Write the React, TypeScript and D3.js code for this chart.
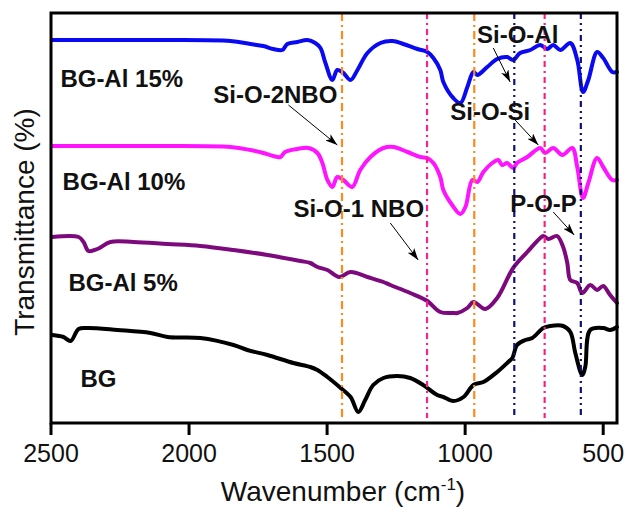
import React from 'react';
import * as d3 from 'd3';

const W = 629;
const H = 507;
const margin = { left: 51, top: 13, right: 12, bottom: 84 };

// wavenumber (cm-1), transmittance (a.u., stacked)
const bg15: [number, number][] = [
  [2495, 383], [2100, 383], [1850, 382], [1778, 379], [1731, 377], [1695, 374], [1662, 373],
  [1644, 379], [1608, 381], [1571, 383], [1543, 380], [1524, 375], [1506, 360], [1481, 343],
  [1463, 353], [1441, 350], [1415, 343], [1390, 353], [1354, 370], [1307, 380], [1263, 382],
  [1224, 379], [1173, 374], [1137, 371], [1115, 365], [1090, 353], [1079, 341], [1043, 325],
  [1017, 320], [992, 336], [970, 351], [956, 348], [920, 356], [884, 364], [848, 366],
  [826, 363], [801, 370], [764, 373], [728, 378], [703, 374], [681, 378], [655, 373],
  [619, 380], [594, 363], [573, 331], [554, 343], [522, 371], [500, 365], [467, 351], [450, 351],
];

const bg10: [number, number][] = [
  [2495, 277], [2100, 277], [1850, 276], [1778, 273], [1731, 270], [1695, 267], [1669, 266],
  [1652, 271], [1608, 274], [1568, 275], [1535, 270], [1517, 260], [1499, 243], [1481, 236],
  [1463, 246], [1441, 243], [1409, 236], [1380, 253], [1343, 266], [1296, 275], [1260, 276],
  [1209, 271], [1162, 266], [1137, 265], [1115, 260], [1090, 246], [1079, 233], [1047, 218],
  [1017, 209], [999, 216], [974, 243], [956, 241], [934, 251], [902, 260], [880, 263],
  [866, 258], [848, 260], [826, 255], [812, 260], [775, 266], [728, 275], [710, 270],
  [681, 275], [648, 268], [612, 275], [594, 256], [573, 225], [554, 240], [522, 265],
  [500, 256], [467, 243], [450, 243],
];

const bg5: [number, number][] = [
  [2495, 186], [2400, 186], [2382, 181], [2364, 172], [2332, 174], [2285, 181], [2201, 181],
  [2078, 179], [1959, 177], [1839, 173], [1716, 168], [1597, 162], [1561, 160], [1535, 156],
  [1499, 153], [1456, 146], [1415, 151], [1354, 146], [1296, 141], [1271, 138], [1199, 130],
  [1137, 122], [1090, 111], [1043, 110], [1028, 110], [992, 115], [970, 121], [927, 114],
  [884, 125], [826, 155], [775, 171], [728, 185], [717, 187], [699, 184], [667, 187],
  [645, 176], [630, 160], [619, 143], [594, 140], [576, 130], [547, 138], [522, 133],
  [500, 137], [475, 128], [450, 120],
];

const bg: [number, number][] = [
  [2495, 88], [2455, 86], [2429, 82], [2400, 94], [2368, 95], [2259, 93], [2140, 90],
  [2078, 86], [1959, 85], [1839, 78], [1789, 73], [1716, 68], [1622, 60], [1561, 56],
  [1535, 53], [1499, 46], [1455, 36], [1415, 26], [1387, 11], [1362, 23], [1333, 38],
  [1296, 45], [1246, 47], [1199, 45], [1152, 38], [1101, 28], [1079, 26], [1043, 22],
  [1006, 26], [970, 38], [934, 41], [884, 51], [844, 61], [829, 65], [812, 78], [782, 83],
  [757, 85], [717, 95], [692, 97], [645, 97], [619, 91], [601, 70], [576, 48], [565, 56],
  [547, 93], [500, 95], [475, 93], [450, 96],
];

const series = [
  { name: 'BG-Al 15%', color: '#0a0af2', data: bg15, label: [2466, 336] },
  { name: 'BG-Al 10%', color: '#ff14ff', data: bg10, label: [2458, 233] },
  { name: 'BG-Al 5%', color: '#7d0a7d', data: bg5, label: [2437, 132] },
  { name: 'BG', color: '#000000', data: bg, label: [2393, 36] },
];

const xTicks = [2500, 2000, 1500, 1000, 500];

const bandLines = [
  { wn: 1446, color: '#ff8a1c', dash: '8,4,2,4' },
  { wn: 1138, color: '#ff1f8c', dash: '6,4,2,4' },
  { wn: 967, color: '#ff8a1c', dash: '8,4,2,4' },
  { wn: 822, color: '#10107a', dash: '6,4,2,4,2,4' },
  { wn: 712, color: '#ff1f8c', dash: '6,4,2,4' },
  { wn: 581, color: '#10107a', dash: '6,4,2,4,2,4' },
];

// text anchor, arrow from, arrow to (data units)
const notes = [
  { text: 'Si-O-2NBO', at: [1912, 320], from: [1640, 318], to: [1463, 278] },
  { text: 'Si-O-1 NBO', at: [1622, 206], from: [1271, 200], to: [1170, 163] },
  { text: 'Si-O-Al', at: [957, 380], from: [898, 375], to: [837, 341] },
  { text: 'Si-O-Si', at: [1054, 303], from: [819, 303], to: [735, 278] },
  { text: 'P-O-P', at: [837, 211], from: [681, 211], to: [605, 188] },
];

const font = '"Liberation Sans", Arial, sans-serif';

export default function App() {
  const x = d3.scaleLinear().domain([2500, 450]).range([margin.left, W - margin.right]);
  const y = d3.scaleLinear().domain([0, 410]).range([H - margin.bottom, margin.top]);
  const line = d3
    .line<[number, number]>()
    .x((d) => x(d[0]))
    .y((d) => y(d[1]))
    .curve(d3.curveCatmullRom.alpha(0.5));

  const bottom = H - margin.bottom;

  return (
    <svg width={W} height={H} style={{ position: 'absolute', left: 0, top: 0, background: '#fff' }}>
      <defs>
        <marker id="arr" viewBox="0 0 12 8" refX="12" refY="4" markerWidth="12" markerHeight="8"
          markerUnits="userSpaceOnUse" orient="auto">
          <path d="M0,0 L12,4 L0,8 L3,4 Z" fill="#000" />
        </marker>
      </defs>

      {series.map((s) => (
        <path key={s.name} d={line(s.data) || ''} fill="none" stroke={s.color}
          strokeWidth={4} strokeLinejoin="round" strokeLinecap="round" />
      ))}

      {bandLines.map((b, i) => (
        <line key={i} x1={x(b.wn)} x2={x(b.wn)} y1={margin.top} y2={bottom - 5}
          stroke={b.color} strokeWidth={2.2} strokeDasharray={b.dash} />
      ))}

      {series.map((s) => (
        <text key={s.name} x={x(s.label[0])} y={y(s.label[1])} fontFamily={font}
          fontWeight="bold" fontSize={24} fill="#111">{s.name}</text>
      ))}

      {notes.map((n) => (
        <g key={n.text}>
          <text x={x(n.at[0])} y={y(n.at[1])} fontFamily={font} fontWeight="bold"
            fontSize={24} fill="#111">{n.text}</text>
          <line x1={x(n.from[0])} y1={y(n.from[1])} x2={x(n.to[0])} y2={y(n.to[1])}
            stroke="#000" strokeWidth={1} markerEnd="url(#arr)" />
        </g>
      ))}

      {/* frame */}
      <rect x={margin.left} y={margin.top} width={W - margin.left - margin.right}
        height={bottom - margin.top} fill="none" stroke="#000" strokeWidth={3} />

      {xTicks.map((t) => (
        <g key={t}>
          <line x1={x(t)} x2={x(t)} y1={bottom} y2={bottom + 12} stroke="#000" strokeWidth={3} />
          <text x={x(t)} y={462} textAnchor="middle" fontFamily={font} fontSize={25}
            fill="#111">{t}</text>
        </g>
      ))}

      <text x={343} y={501} textAnchor="middle" fontFamily={font} fontSize={28} fill="#111">
        Wavenumber (cm<tspan fontSize={17} dy={-11}>-1</tspan><tspan dy={11}>)</tspan>
      </text>
      <text transform={`translate(34,${222}) rotate(-90)`} textAnchor="middle"
        fontFamily={font} fontSize={28} fill="#111">Transmittance (%)</text>
    </svg>
  );
}
